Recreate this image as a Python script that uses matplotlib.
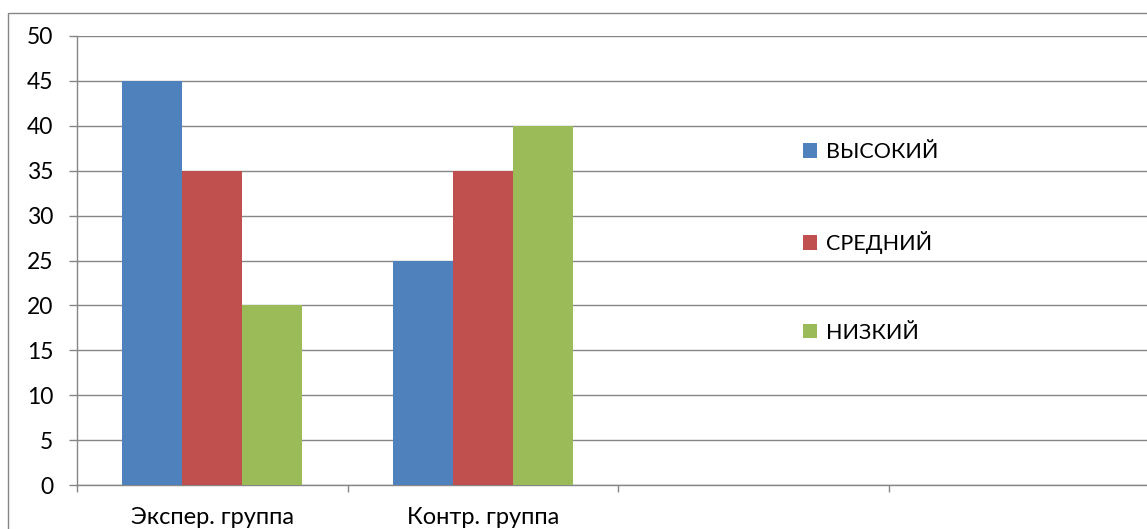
import matplotlib
matplotlib.use("Agg")
import matplotlib.pyplot as plt
import matplotlib.patches as mpatches
import numpy as np

plt.rcParams['font.family'] = ['Lato', 'DejaVu Sans']

categories = ["Экспер. группа", "Контр. группа", "", ""]
series_names = ["ВЫСОКИЙ", "СРЕДНИЙ", "НИЗКИЙ"]
vysokiy = [45, 25, None, None]
sredniy = [35, 35, None, None]
nizkiy = [20, 40, None, None]
colors = ["#4F81BD", "#C0504D", "#9BBB59"]
y_ticks = [0, 5, 10, 15, 20, 25, 30, 35, 40, 45, 50]

W, H = 1147, 529
fig = plt.figure(figsize=(W / 100, H / 100), dpi=100)

# outer chart frame (runs off the right and bottom edges)
fig.patches.append(mpatches.Rectangle((8 / W, -0.2), 1.2, 1 - 13 / H + 0.2,
                                      transform=fig.transFigure, fill=False,
                                      edgecolor="#868686", linewidth=1.0))

left, right = 77, 1159
top, bottom = 36, 485
ax = fig.add_axes([left / W, (H - bottom) / H, (right - left) / W, (bottom - top) / H])

x = np.arange(len(categories))
bw = 60 / 270.5
for i, (vals, col, name) in enumerate(zip([vysokiy, sredniy, nizkiy], colors, series_names)):
    xs = [xi + (i - 1) * bw for xi, v in zip(x, vals) if v is not None]
    vs = [v for v in vals if v is not None]
    ax.bar(xs, vs, width=bw, color=col, label=name, zorder=3, linewidth=0)

ax.set_xlim(-0.5, len(categories) - 0.5)
ax.set_ylim(0, 50)
ax.set_yticks(y_ticks)
ax.yaxis.grid(True, color="#868686", linewidth=1.0, zorder=0)
ax.set_axisbelow(True)

ax.set_xticks(x)
ax.set_xticklabels(categories)
ax.set_xticks(np.arange(len(categories) + 1) - 0.5, minor=True)
ax.tick_params(axis='x', which='major', length=0, pad=16, labelsize=17)
ax.tick_params(axis='x', which='minor', length=5, direction='out', color="#868686", width=1)
ax.tick_params(axis='y', length=6, color="#868686", width=1, pad=11, labelsize=16.5)

for s in ["top", "right"]:
    ax.spines[s].set_visible(False)
for s in ["left", "bottom"]:
    ax.spines[s].set_color("#868686")
    ax.spines[s].set_linewidth(1.0)

leg = ax.legend(loc="upper left", bbox_to_anchor=(803 / W, 1 - 142 / H),
                bbox_transform=fig.transFigure, frameon=False, fontsize=15.5,
                handlelength=0.65, handleheight=0.65, handletextpad=0.4,
                labelspacing=3.2, borderpad=0, borderaxespad=0)

fig.savefig("out.png", dpi=100, facecolor="white")
